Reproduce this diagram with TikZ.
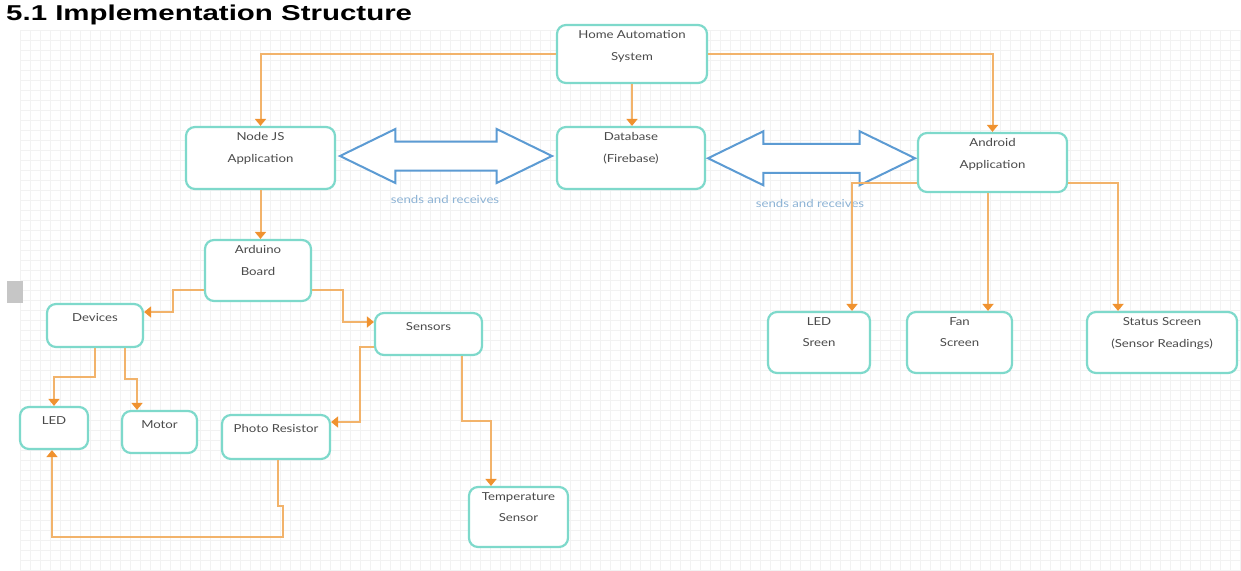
\documentclass[tikz,border=0pt]{standalone}
\usepackage{fontspec}
\usetikzlibrary{arrows.meta,shapes.arrows,calc}
\newfontfamily\lblfont[FakeStretch=1.2]{Lato}
\newfontfamily\ttlfont[FakeStretch=1.37]{Liberation Sans}
\definecolor{boxc}{HTML}{7ED9CB}
\definecolor{orl}{HTML}{F2B36B}
\definecolor{ora}{HTML}{F0922F}
\definecolor{blu}{HTML}{5C9BD3}
\definecolor{txtc}{HTML}{4A4A4A}
\definecolor{lblb}{HTML}{8DB3D5}
\definecolor{gridc}{HTML}{F2F2F2}
\begin{document}
\begin{tikzpicture}[x=1pt,y=-1pt,
  box/.style={draw=boxc,line width=2.2pt,rounded corners=9pt,fill=white,inner sep=0pt},
  twol/.style={anchor=north,inner sep=0pt,align=center,text=txtc,font=\lblfont\fontsize{11}{21.5}\selectfont,yshift=-6.5pt},
  onel/.style={anchor=north,inner sep=0pt,align=center,text=txtc,font=\lblfont\fontsize{11}{21.5}\selectfont,yshift=-10.5pt},
  conn/.style={draw=orl,line width=2pt,-{Triangle[width=11pt,length=7pt,color=ora]}},
  dbl/.style={double arrow,draw=blu,line width=2pt,fill=white,inner sep=13.5pt,
    double arrow head extend=12.5pt,double arrow tip angle=52},
  sr/.style={text=lblb,inner sep=0pt,font=\lblfont\fontsize{11}{13}\selectfont}]
\useasboundingbox (0,0) rectangle (1241,570);
\fill[white] (0,0) rectangle (1241,570);
\draw[gridc,line width=0.4pt,step=10pt] (20pt,-570pt) grid (1241pt,-30pt);
\fill[gray!45] (7,281) rectangle (23,303);

\node[anchor=base west,inner sep=0pt,font=\ttlfont\bfseries\fontsize{21.5}{24}\selectfont] (title) at (6,20) {5.1 Implementation Structure};

% boxes
\node[box,minimum width=150pt,minimum height=58pt] (home) at (632,54) {};
\node[box,minimum width=149pt,minimum height=62pt] (nj) at (260.5,158) {};
\node[box,minimum width=148pt,minimum height=62pt] (db) at (631,158) {};
\node[box,minimum width=149pt,minimum height=59pt] (and) at (992.5,162.5) {};
\node[box,minimum width=106pt,minimum height=61pt] (ard) at (258,270.5) {};
\node[box,minimum width=96pt,minimum height=43pt] (dev) at (95,325.5) {};
\node[box,minimum width=107pt,minimum height=42pt] (sen) at (428.5,334) {};
\node[box,minimum width=68pt,minimum height=42pt] (led) at (54,428) {};
\node[box,minimum width=75pt,minimum height=42pt] (mot) at (159.5,432) {};
\node[box,minimum width=108pt,minimum height=44pt] (pr) at (276,437) {};
\node[box,minimum width=99pt,minimum height=60pt] (tmp) at (518.5,517) {};
\node[box,minimum width=102pt,minimum height=61pt] (leds) at (819,342.5) {};
\node[box,minimum width=105pt,minimum height=61pt] (fan) at (959.5,342.5) {};
\node[box,minimum width=150pt,minimum height=61pt] (stat) at (1162,342.5) {};

% labels
\node[twol] (homet) at (home.north) {Home Automation\\System};
\node[twol] (njt) at (nj.north) {Node JS\\Application};
\node[twol] (dbt) at (db.north) {Database\\(Firebase)};
\node[twol] (andt) at (and.north) {Android\\Application};
\node[twol] (ardt) at (ard.north) {Arduino\\Board};
\node[onel] (devt) at (dev.north) {Devices};
\node[onel] (sent) at (sen.north) {Sensors};
\node[onel] (ledt) at (led.north) {LED};
\node[onel] (mott) at (mot.north) {Motor};
\node[onel] (prt) at (pr.north) {Photo Resistor};
\node[twol] (tmpt) at (tmp.north) {Temperature\\Sensor};
\node[twol] (ledst) at (leds.north) {LED\\Sreen};
\node[twol] (fant) at (fan.north) {Fan\\Screen};
\node[twol] (statt) at (stat.north) {Status Screen\\(Sensor Readings)};

% blue double arrows
\node[dbl,minimum height=212pt] (a1) at ($(nj.east)!0.5!(db.west)+(0,-2)$) {};
\node[dbl,minimum height=207pt] (a2) at ($(db.east)!0.5!(and.west)+(0,-2)$) {};
\node[sr] (s1) at (445,199) {sends and receives};
\node[sr] (s2) at (810,203) {sends and receives};

% orange connectors
\draw[conn] (home.west) -| (nj.north);
\draw[conn] (home.south) -- (home.south |- db.north);
\draw[conn] (home.east) -| (and.north);
\draw[conn] (nj.south) -- (nj.south |- ard.north);
\draw[conn] ([yshift=-19.5pt]ard.west) -- (173,290) |- ([yshift=13.5pt]dev.east);
\draw[conn] ([yshift=-19.5pt]ard.east) -- (343,290) |- ([yshift=12pt]sen.west);
\draw[conn] (dev.south) -- (95,377) -| (led.north);
\draw[conn] ([xshift=30pt]dev.south) -- (125,379) -| ([xshift=-22.5pt]mot.north);
\draw[conn] ([yshift=-13pt]sen.west) -- (360,347) |- ([yshift=15pt]pr.east);
\draw[conn] ([xshift=33.5pt]sen.south) -- (462,421) -| ([xshift=-27.5pt]tmp.north);
\draw[conn] ([xshift=2pt]pr.south) -- (278,506) -- (283,506) -- (283,537) -| ([xshift=-2pt]led.south);
\draw[conn] ([yshift=-20pt]and.west) -| ([xshift=33pt]leds.north);
\draw[conn] ([xshift=-4.5pt]and.south) -- ([xshift=28.5pt]fan.north);
\draw[conn] ([yshift=-20pt]and.east) -| ([xshift=-44pt]stat.north);
\end{tikzpicture}
\end{document}
